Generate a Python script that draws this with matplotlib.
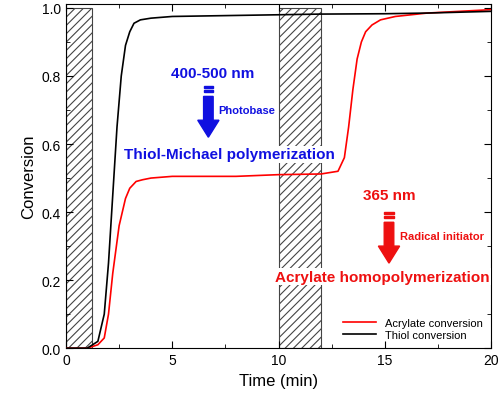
import matplotlib
matplotlib.use("Agg")
import matplotlib.pyplot as plt
from matplotlib.patches import Rectangle, FancyArrow

plt.rcParams['font.family'] = ['Liberation Sans', 'DejaVu Sans']

thiol_t = [0, 1.0, 1.5, 1.8, 2.0, 2.2, 2.4, 2.6, 2.8, 3.0, 3.2, 3.5, 4.0, 5, 8, 10, 12, 15, 17, 20]
thiol_c = [0, 0.0, 0.02, 0.10, 0.25, 0.45, 0.65, 0.80, 0.89, 0.93, 0.955, 0.965, 0.97, 0.975, 0.978, 0.98, 0.982, 0.983, 0.985, 0.99]
acr_t = [0, 1.0, 1.5, 1.8, 2.0, 2.2, 2.5, 2.8, 3.0, 3.3, 3.6, 4.0, 5, 8, 10, 12, 12.8, 13.1, 13.3, 13.5, 13.7, 13.9, 14.1, 14.4, 14.8, 15.5, 17, 20]
acr_c = [0, 0.0, 0.01, 0.03, 0.10, 0.22, 0.36, 0.44, 0.47, 0.49, 0.495, 0.50, 0.505, 0.505, 0.51, 0.512, 0.52, 0.56, 0.65, 0.76, 0.85, 0.90, 0.93, 0.95, 0.965, 0.975, 0.985, 0.995]
shade_spans = [(0, 1.2), (10, 12)]

fig = plt.figure(figsize=(5, 4.06), dpi=100)
ax = fig.add_axes([0.132, 0.140, 0.85, 0.848])
plt.rcParams['hatch.linewidth'] = 0.8
for a, b in shade_spans:
    ax.add_patch(Rectangle((a, 0), b - a, 1.0, facecolor='white', edgecolor='#444444',
                           hatch='////', linewidth=0.8, zorder=1))
ax.plot(acr_t, acr_c, color='red', lw=1.2, label='Acrylate conversion', zorder=3)
ax.plot(thiol_t, thiol_c, color='black', lw=1.2, label='Thiol conversion', zorder=3)

ax.set_xlim(0, 20)
ax.set_ylim(0, 1.012)
ax.set_xticks([0, 5, 10, 15, 20])
ax.set_xticks([2.5, 7.5, 12.5, 17.5], minor=True)
ax.set_yticks([0, 0.2, 0.4, 0.6, 0.8, 1.0])
ax.set_yticks([0.1, 0.3, 0.5, 0.7, 0.9], minor=True)
ax.set_yticklabels(['0.0', '0.2', '0.4', '0.6', '0.8', '1.0'])
ax.tick_params(direction='in', which='both', top=True, right=True, labelsize=10)
ax.tick_params(which='major', length=5)
ax.tick_params(which='minor', length=3)
ax.set_xlabel('Time (min)', fontsize=12)
ax.set_ylabel('Conversion', fontsize=12)

bb = dict(facecolor='white', edgecolor='none', pad=1)
ax.text(6.9, 0.81, '400-500 nm', color='#1010e0', fontsize=11, fontweight='bold', ha='center', va='center', zorder=5)
ax.text(8.5, 0.70, 'Photobase', color='#1010e0', fontsize=8, fontweight='bold', ha='center', va='center', zorder=5)
ax.text(7.7, 0.57, 'Thiol-Michael polymerization', color='#1010e0', fontsize=11, fontweight='bold', ha='center', va='center', bbox=bb, zorder=5)
ax.text(15.2, 0.45, '365 nm', color='#ee1010', fontsize=11, fontweight='bold', ha='center', va='center', zorder=5)
ax.text(17.7, 0.33, 'Radical initiator', color='#ee1010', fontsize=8, fontweight='bold', ha='center', va='center', zorder=5)
ax.text(14.9, 0.21, 'Acrylate homopolymerization', color='#ee1010', fontsize=11, fontweight='bold', ha='center', va='center', bbox=bb, zorder=5)

for x, top, tip, col in [(6.7, 0.77, 0.62, '#1010e0'), (15.2, 0.40, 0.25, '#ee1010')]:
    ax.add_patch(FancyArrow(x, top - 0.03, 0, tip - top + 0.03, width=0.45, head_width=1.0,
                            head_length=0.05, length_includes_head=True, color=col, zorder=5))
    for k, dy in enumerate([0.0, 0.012]):
        ax.add_patch(Rectangle((x - 0.225, top - dy - 0.006), 0.45, 0.006, color=col, zorder=5))

leg = ax.legend(loc='lower right', frameon=False, fontsize=8, handlelength=3, borderaxespad=0.3, labelspacing=0.2)
fig.savefig('out.png', dpi=100)
